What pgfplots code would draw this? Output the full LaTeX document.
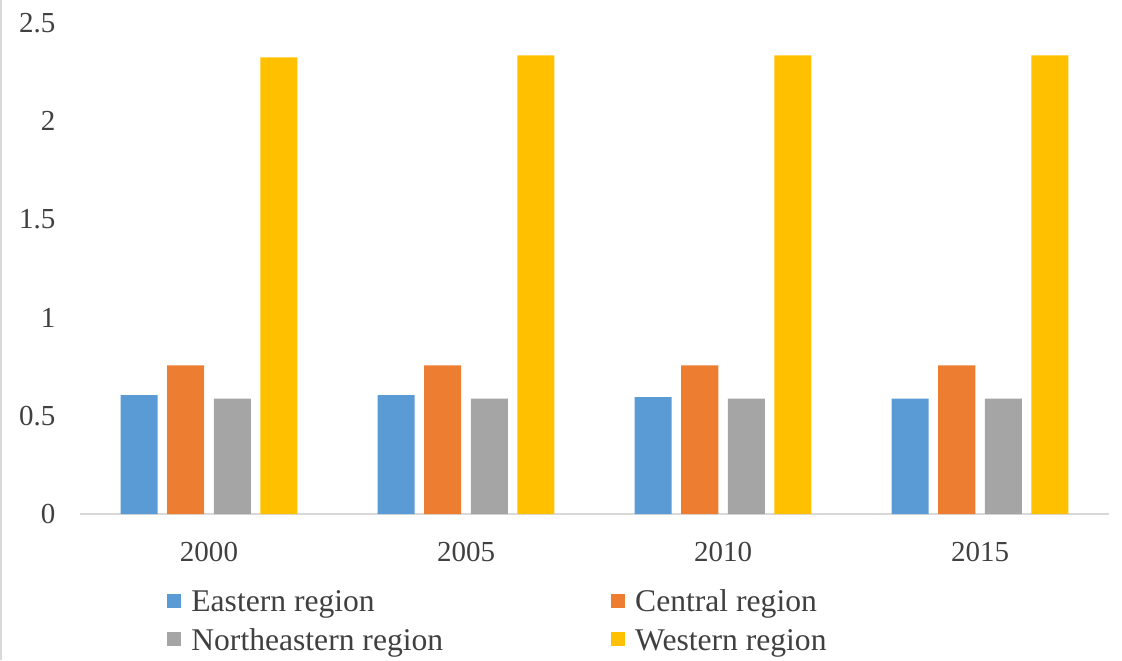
\documentclass[border=0pt]{standalone}
\usepackage{pgfplots}
\pgfplotsset{compat=1.18}
\usepackage{fontspec}
\setmainfont{Liberation Serif}
\definecolor{cBlue}{HTML}{5B9BD5}
\definecolor{cOrange}{HTML}{ED7D31}
\definecolor{cGray}{HTML}{A5A5A5}
\definecolor{cYellow}{HTML}{FFC000}
\definecolor{axisgray}{HTML}{D9D9D9}
\definecolor{txt}{HTML}{404040}
\begin{document}
\begin{tikzpicture}
\path[use as bounding box] (-40.25pt,-73pt) rectangle (520.75pt,257pt);
\draw[gray!30, line width=1pt] (-39.75pt,-73pt) -- (-39.75pt,257pt);
\begin{axis}[
  at={(0,0)}, anchor=south west,
  scale only axis, width=514pt, height=245.5pt,
  xmin=-0.5, xmax=3.5, ymin=0, ymax=2.5,
  axis x line=bottom, axis y line=left,
  x axis line style={-, axisgray, line width=1pt},
  y axis line style={draw=none},
  xtick style={draw=none}, ytick style={draw=none},
  xtick={0,1,2,3}, xticklabels={2000,2005,2010,2015},
  ytick={0,0.5,1,1.5,2,2.5}, yticklabels={0,0.5,1,1.5,2,2.5},
  ticklabel style={font=\fontsize{14.5}{16}\selectfont, text=txt},
  /pgf/number format/assume math mode=true,
  yticklabel style={inner sep=0pt, xshift=-10.25pt},
  xticklabel style={inner sep=0pt, yshift=-9.5pt},
  ybar, bar width=0.144,
  legend columns=2,
  legend cell align=left,
  legend style={draw=none, fill=none, at={(0.0783,-0.1456)}, anchor=north west,
    font=\fontsize{15.8}{18}\selectfont, text=txt,
    nodes={inner sep=0pt, text height=11pt, text depth=0pt},
    /tikz/row sep=8.25pt,
    /tikz/column 1/.style={column sep=5pt},
    /tikz/column 2/.style={column sep=84pt},
    /tikz/column 3/.style={column sep=5pt}},
  legend image code/.code={\fill[#1] (0pt,-3.5pt) rectangle (7pt,3.5pt);},
]
\addplot[fill=cBlue, draw=none, bar shift=-0.2715] coordinates {(0,0.605) (1,0.605) (2,0.595) (3,0.588)};
\addplot[fill=cOrange, draw=none, bar shift=-0.0905] coordinates {(0,0.757) (1,0.757) (2,0.757) (3,0.757)};
\addplot[fill=cGray, draw=none, bar shift=0.0905] coordinates {(0,0.588) (1,0.588) (2,0.588) (3,0.588)};
\addplot[fill=cYellow, draw=none, bar shift=0.2715] coordinates {(0,2.325) (1,2.335) (2,2.335) (3,2.335)};
\legend{Eastern region, Central region, Northeastern region, Western region}
\end{axis}
\end{tikzpicture}
\end{document}
